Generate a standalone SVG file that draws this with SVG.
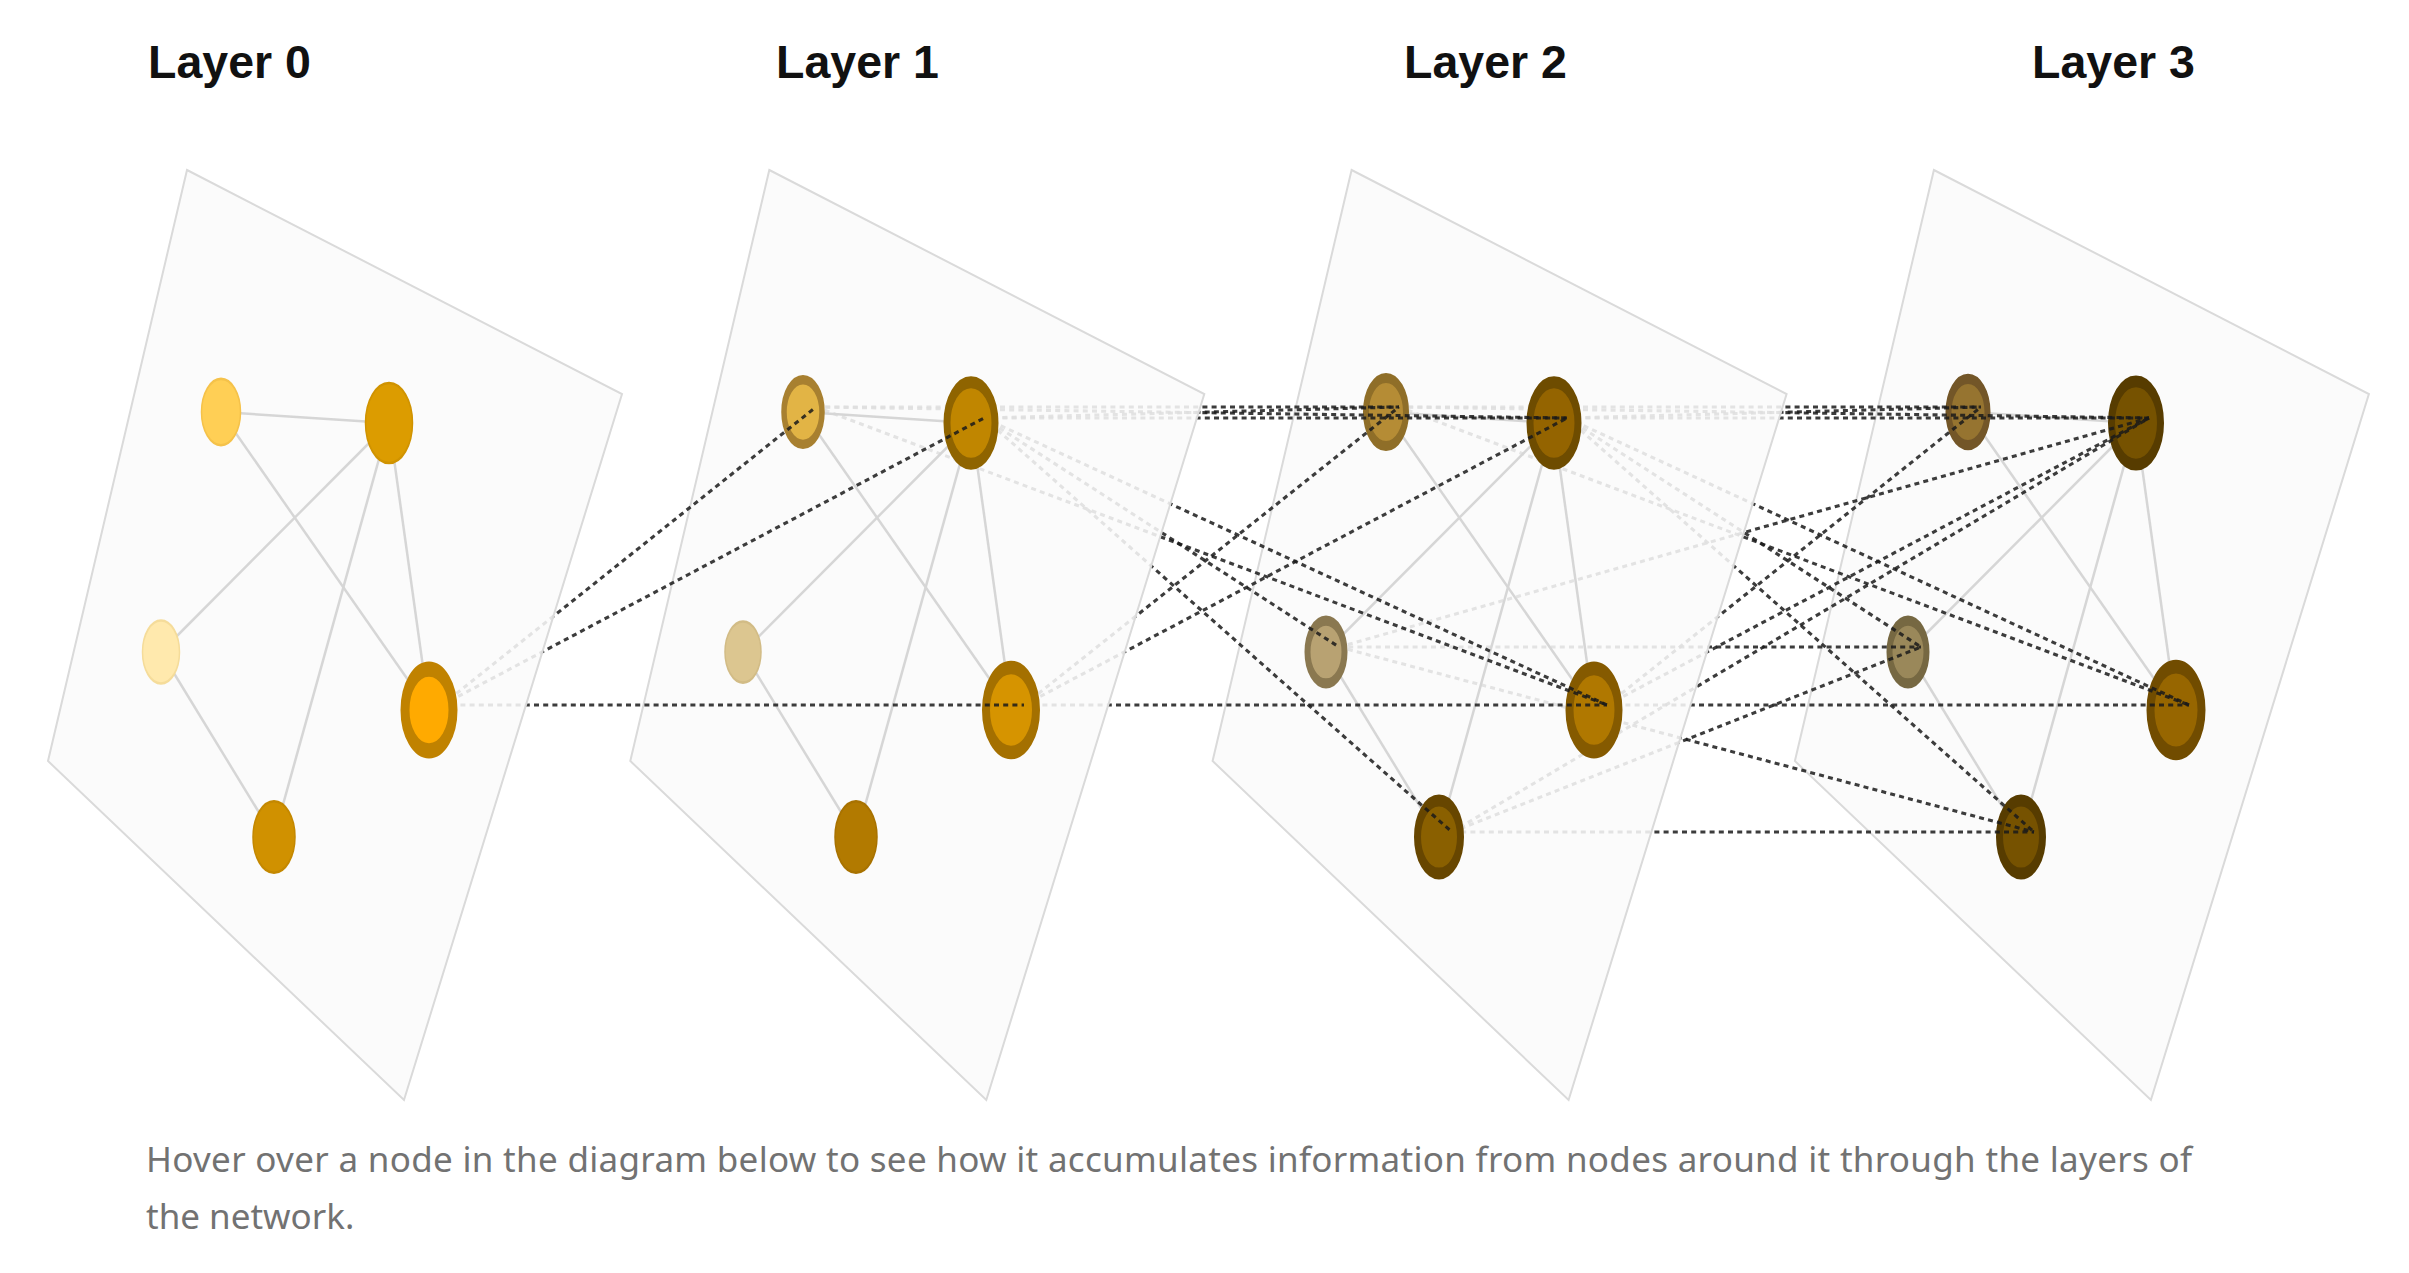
<svg xmlns="http://www.w3.org/2000/svg" xmlns:xlink="http://www.w3.org/1999/xlink" width="2409" height="1273" viewBox="0 0 2409 1273">
<style>
.plane{fill:#fafafa;fill-opacity:0.88;stroke:#dadada;stroke-width:2}
.edge{stroke:#d6d6d6;stroke-width:2.5;fill:none}
.conn{stroke:#1a1a1a;stroke-opacity:0.85;stroke-width:3.1;stroke-dasharray:5 4.2;fill:none}
.title{font-family:"Liberation Sans",Arial,sans-serif;font-weight:bold;font-size:46.5px;fill:#111}
.caption{font-family:"Noto Sans","Open Sans",sans-serif;font-size:35px;fill:#727272}
</style>
<defs>
<polygon id="plane-shape" class="plane" points="187,170 622,394 404,1100 48,761"/>
<g id="edge-set">
<line class="edge" x1="221" y1="412" x2="389" y2="423"/>
<line class="edge" x1="221" y1="412" x2="429" y2="710"/>
<line class="edge" x1="389" y1="423" x2="161" y2="652"/>
<line class="edge" x1="389" y1="423" x2="429" y2="710"/>
<line class="edge" x1="389" y1="423" x2="274" y2="837"/>
<line class="edge" x1="161" y1="652" x2="274" y2="837"/>
</g>
</defs>
<rect width="2409" height="1273" fill="#ffffff"/>

<!-- Layer 3 (farthest) -->
<g id="layer3">
<use xlink:href="#plane-shape" href="#plane-shape" x="1746.9"/>
<use xlink:href="#edge-set" href="#edge-set" x="1746.9"/>
<g id="L3-A"><circle r="19.5" fill="#967430" stroke="#735628" stroke-width="6" transform="translate(1968,412) scale(1,1.7)"/></g>
<g id="L3-B"><circle r="24.5" fill="#765200" stroke="#573c00" stroke-width="7" transform="translate(2136,423) scale(1,1.7)"/></g>
<g id="L3-C"><circle r="18.5" fill="#9a885a" stroke="#766842" stroke-width="6" transform="translate(1908,652) scale(1,1.7)"/></g>
<g id="L3-D"><circle r="25.5" fill="#976600" stroke="#714c00" stroke-width="8" transform="translate(2176,710) scale(1,1.7)"/></g>
<g id="L3-E"><circle r="21.5" fill="#765200" stroke="#573c00" stroke-width="7" transform="translate(2021,837) scale(1,1.7)"/></g>
</g>

<g id="connectors-2-3">
<line class="conn" x1="1399" y1="407" x2="1981" y2="407"/>
<line class="conn" x1="1399" y1="407" x2="2149" y2="418"/>
<line class="conn" x1="1399" y1="407" x2="2189" y2="705"/>
<line class="conn" x1="1567" y1="418" x2="1981" y2="407"/>
<line class="conn" x1="1567" y1="418" x2="2149" y2="418"/>
<line class="conn" x1="1567" y1="418" x2="1921" y2="647"/>
<line class="conn" x1="1567" y1="418" x2="2189" y2="705"/>
<line class="conn" x1="1567" y1="418" x2="2034" y2="832"/>
<line class="conn" x1="1339" y1="647" x2="2149" y2="418"/>
<line class="conn" x1="1339" y1="647" x2="1921" y2="647"/>
<line class="conn" x1="1339" y1="647" x2="2034" y2="832"/>
<line class="conn" x1="1607" y1="705" x2="1981" y2="407"/>
<line class="conn" x1="1607" y1="705" x2="2149" y2="418"/>
<line class="conn" x1="1607" y1="705" x2="2189" y2="705"/>
<line class="conn" x1="1452" y1="832" x2="2149" y2="418"/>
<line class="conn" x1="1452" y1="832" x2="1921" y2="647"/>
<line class="conn" x1="1452" y1="832" x2="2034" y2="832"/>
</g>

<!-- Layer 2 -->
<g id="layer2">
<use xlink:href="#plane-shape" href="#plane-shape" x="1164.6"/>
<use xlink:href="#edge-set" href="#edge-set" x="1164.6"/>
<g id="L2-A"><circle r="20" fill="#b58c35" stroke="#8f6e28" stroke-width="6" transform="translate(1386,412) scale(1,1.7)"/></g>
<g id="L2-B"><circle r="24" fill="#946400" stroke="#6e4c00" stroke-width="7" transform="translate(1554,423) scale(1,1.7)"/></g>
<g id="L2-C"><circle r="18.5" fill="#b8a272" stroke="#8a7850" stroke-width="6" transform="translate(1326,652) scale(1,1.7)"/></g>
<g id="L2-D"><circle r="24.5" fill="#b07800" stroke="#855a00" stroke-width="8" transform="translate(1594,710) scale(1,1.7)"/></g>
<g id="L2-E"><circle r="21.5" fill="#8a6000" stroke="#674600" stroke-width="7" transform="translate(1439,837) scale(1,1.7)"/></g>
</g>

<g id="connectors-1-2">
<line class="conn" x1="816" y1="407" x2="1399" y2="407"/>
<line class="conn" x1="816" y1="407" x2="1567" y2="418"/>
<line class="conn" x1="816" y1="407" x2="1607" y2="705"/>
<line class="conn" x1="984" y1="418" x2="1399" y2="407"/>
<line class="conn" x1="984" y1="418" x2="1567" y2="418"/>
<line class="conn" x1="984" y1="418" x2="1339" y2="647"/>
<line class="conn" x1="984" y1="418" x2="1607" y2="705"/>
<line class="conn" x1="984" y1="418" x2="1452" y2="832"/>
<line class="conn" x1="1024" y1="705" x2="1399" y2="407"/>
<line class="conn" x1="1024" y1="705" x2="1567" y2="418"/>
<line class="conn" x1="1024" y1="705" x2="1607" y2="705"/>
</g>

<!-- Layer 1 -->
<g id="layer1">
<use xlink:href="#plane-shape" href="#plane-shape" x="582.3"/>
<use xlink:href="#edge-set" href="#edge-set" x="582.3"/>
<g id="L1-A"><circle r="19" fill="#e2b445" stroke="#a88030" stroke-width="5.5" transform="translate(803,412) scale(1,1.7)"/></g>
<g id="L1-B"><circle r="24" fill="#c08600" stroke="#8f6400" stroke-width="7" transform="translate(971,423) scale(1,1.7)"/></g>
<g id="L1-C"><circle r="18" fill="#dcc690" stroke="#d2bc86" stroke-width="1.5" transform="translate(743,652) scale(1,1.7)"/></g>
<g id="L1-D"><circle r="25" fill="#d69400" stroke="#a47000" stroke-width="8" transform="translate(1011,710) scale(1,1.7)"/></g>
<g id="L1-E"><circle r="21" fill="#b27a00" stroke="#a87200" stroke-width="1.5" transform="translate(856,837) scale(1,1.7)"/></g>
</g>

<g id="connectors-0-1">
<line class="conn" x1="442" y1="705" x2="816" y2="407"/>
<line class="conn" x1="442" y1="705" x2="984" y2="418"/>
<line class="conn" x1="442" y1="705" x2="1024" y2="705"/>
</g>

<!-- Layer 0 (nearest) -->
<g id="layer0">
<use xlink:href="#plane-shape" href="#plane-shape"/>
<use xlink:href="#edge-set" href="#edge-set"/>
<g id="L0-A"><circle r="19.5" fill="#ffcf55" stroke="#f5c24a" stroke-width="1.5" transform="translate(221,412) scale(1,1.7)"/></g>
<g id="L0-B"><circle r="23.5" fill="#dc9c00" stroke="#d09300" stroke-width="1.5" transform="translate(389,423) scale(1,1.7)"/></g>
<g id="L0-C"><circle r="18.5" fill="#ffe9ad" stroke="#f5dc9a" stroke-width="1.5" transform="translate(161,652) scale(1,1.7)"/></g>
<g id="L0-D"><circle r="24" fill="#ffaa00" stroke="#c08200" stroke-width="9" transform="translate(429,710) scale(1,1.7)"/></g>
<g id="L0-E"><circle r="21" fill="#d09100" stroke="#c48800" stroke-width="1.5" transform="translate(274,837) scale(1,1.7)"/></g>
</g>

<g id="titles">
<text class="title" x="148" y="78">Layer 0</text>
<text class="title" x="776" y="78">Layer 1</text>
<text class="title" x="1404" y="78">Layer 2</text>
<text class="title" x="2032" y="78">Layer 3</text>
</g>

<g id="caption">
<text class="caption" x="146" y="1172" textLength="2046" lengthAdjust="spacing">Hover over a node in the diagram below to see how it accumulates information from nodes around it through the layers of</text>
<text class="caption" x="146" y="1229">the network.</text>
</g>
</svg>
